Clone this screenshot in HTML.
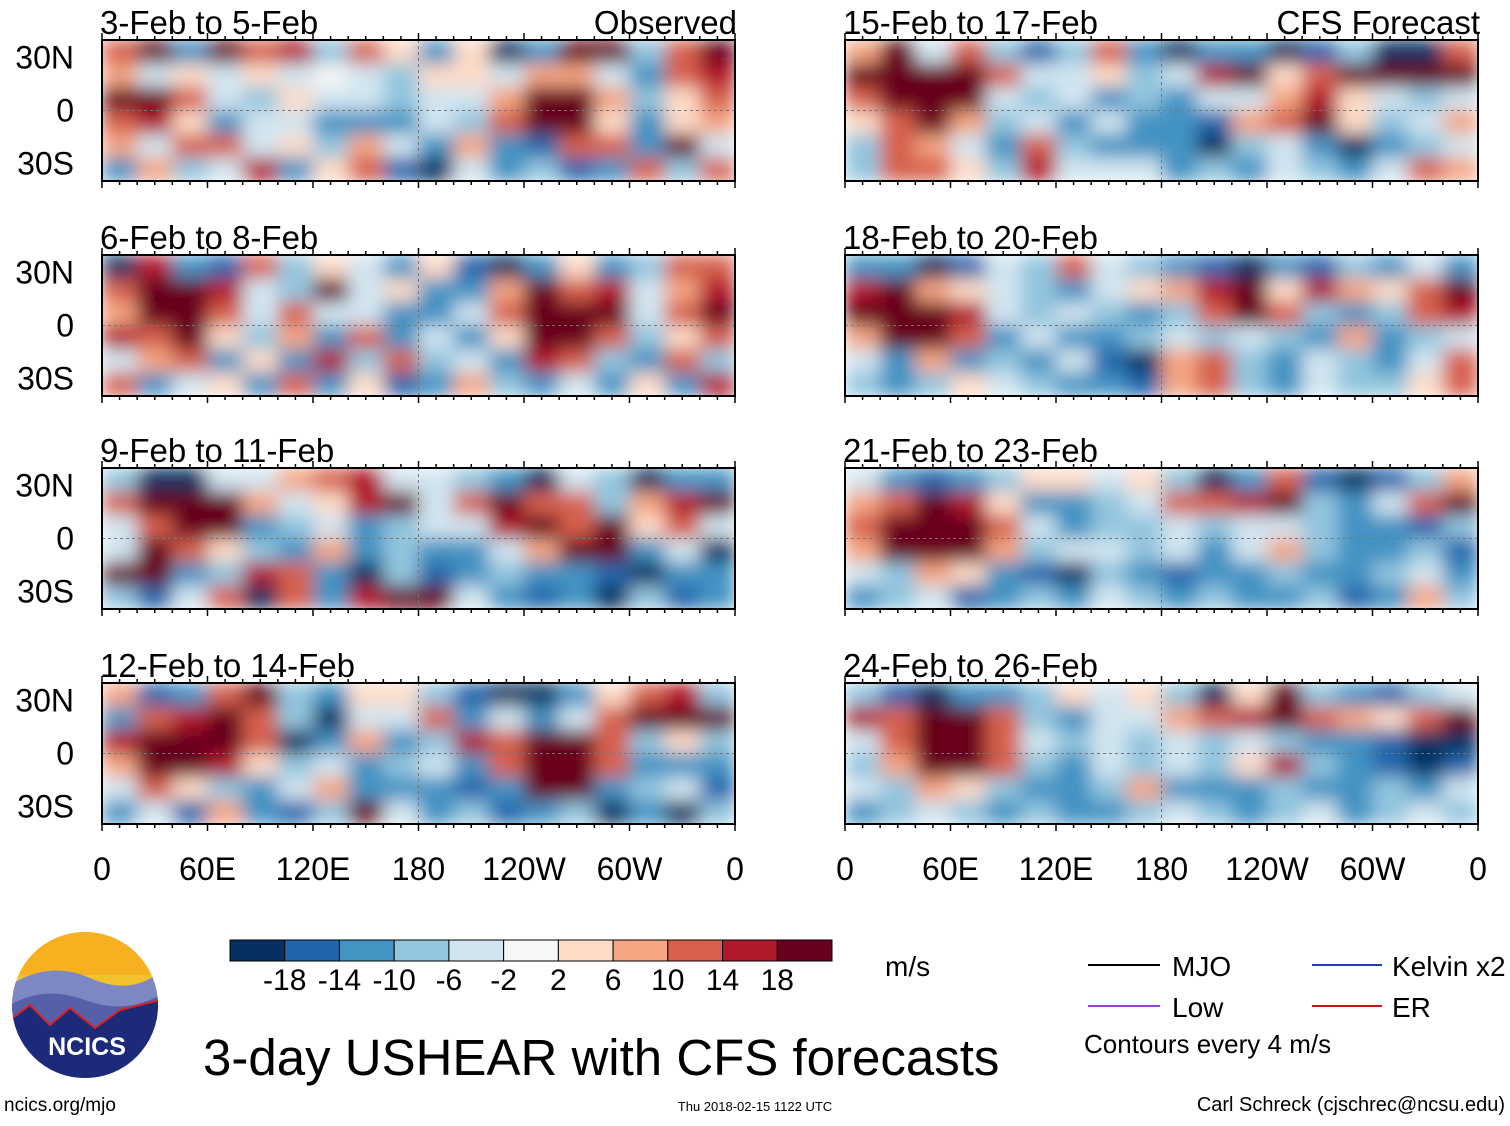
<!DOCTYPE html>
<html><head><meta charset="utf-8"><style>
body{margin:0;background:#fff;width:1510px;height:1121px;overflow:hidden;font-family:"Liberation Sans",sans-serif}
svg text{font-family:"Liberation Sans",sans-serif}
</style></head><body>
<svg id="chart" width="1510" height="1121">
<defs>
<filter id="bl" x="0" y="0" width="1" height="1"><feGaussianBlur stdDeviation="9" edgeMode="duplicate"/></filter>
</defs>
<g id="panels"></g>
<g id="bottom"></g>
</svg>
<script>
const panelTitles=["3-Feb to 5-Feb","6-Feb to 8-Feb","9-Feb to 11-Feb","12-Feb to 14-Feb","15-Feb to 17-Feb","18-Feb to 20-Feb","21-Feb to 23-Feb","24-Feb to 26-Feb"];
const lonTicks=["0","60E","120E","180","120W","60W","0"];
const latTicks=["30N","0","30S"];
const cbLabels=["-18","-14","-10","-6","-2","2","6","10","14","18"];
const p1=[[10,14,-10,15,8,12,-6,8,2,-10,4,-14,-10,15,18,-6,10,18],[6,-2,4,-4,2,-4,0,-2,-6,2,4,-4,6,6,-2,-10,8,12],[14,18,10,-2,-6,2,-2,-4,-6,-4,-2,6,18,18,6,-6,4,10],[8,12,4,-8,-4,-2,-8,-10,-8,-4,-6,8,18,16,4,-8,2,6],[6,-4,10,8,-2,4,-6,6,-4,-10,6,-8,-12,10,8,-10,14,-4],[-8,6,-6,-4,12,-8,2,10,-12,-14,-4,-10,-6,-12,-8,10,-6,8]];
const p2=[[-14,12,-8,-12,10,-6,4,-2,-10,4,-12,-14,-8,4,-10,-6,8,10],[8,16,18,12,-4,-6,14,-2,2,-8,-10,6,14,10,12,-4,6,12],[6,18,18,10,-2,8,-4,-2,-8,-10,-4,10,18,18,14,-4,8,14],[12,10,14,2,-6,6,-10,8,-10,-4,-8,4,14,18,10,-6,4,10],[-4,6,8,-10,4,-8,12,-6,8,-6,-4,-8,12,10,-6,-8,10,-6],[8,-10,-4,4,-10,10,-8,4,-12,-10,6,-6,-8,-4,-8,4,-10,12]];
const p3=[[-6,-16,-18,-4,-2,6,10,12,-4,-2,-6,-10,-14,-4,-6,-14,-8,-10],[10,14,18,18,6,-4,2,12,14,-4,8,18,10,8,-6,6,12,18],[-2,10,18,16,-8,-6,-4,-8,-6,-4,-4,12,14,10,18,4,10,-4],[-2,14,10,4,-6,-10,6,-10,-6,-10,-8,-2,6,18,16,-8,-4,-14],[18,14,-10,-6,12,8,-10,-14,-6,-12,-10,-6,-10,-8,-12,-14,-10,-10],[-6,-12,-4,8,-14,10,-8,12,14,18,-4,-10,-12,-8,-14,-6,-12,-10]];
const p4=[[6,-12,-10,8,14,-6,-10,4,2,-6,-12,-14,-16,-10,4,8,12,-6],[-8,10,12,14,8,-6,-14,-4,-4,10,-10,-4,-10,-2,10,18,18,16],[12,16,18,16,10,-14,-8,6,-8,-6,12,8,18,18,10,-6,4,-6],[6,14,18,12,4,-6,-2,-10,-6,-4,-10,8,18,18,8,-8,-10,-8],[-4,8,4,-6,-10,-4,6,-8,-10,-8,-12,-8,14,16,-10,-6,-4,-12],[-8,-4,-12,6,-10,-12,-6,14,-4,-8,-6,-12,-10,-6,-14,-10,-14,-6]];
const p5=[[6,14,-4,10,-6,-12,-6,8,-10,-14,-8,-10,-14,-12,-6,-14,-18,8],[14,16,18,14,8,-4,-4,2,-6,-4,12,14,4,8,18,18,14,16],[10,18,18,14,-2,-6,-4,-10,-6,-8,-4,-2,6,12,4,-4,-6,-2],[4,10,14,6,-6,-2,-8,-4,-8,-10,-12,6,10,16,4,-6,-4,6],[-6,10,6,-4,-10,8,-6,-10,-8,-10,-14,-6,-4,-10,-14,-10,-6,-4],[-6,10,8,4,-6,12,-4,-2,-4,-10,-6,-10,-4,-6,-10,-4,8,6]];
const p6=[[-8,-10,-14,-12,-4,-6,10,-4,-6,-10,-12,-14,-8,-12,-6,-10,-4,-8],[12,16,6,4,-4,-6,-8,-4,2,6,12,14,4,12,6,2,10,14],[14,18,18,12,-4,-6,-4,-6,-8,-6,8,16,10,-6,-8,-6,8,12],[6,14,16,8,-8,-4,-10,-8,-6,-4,-6,-4,-6,-10,6,-8,-6,-4],[-4,-10,6,-8,-6,-10,-4,-12,-14,6,10,-6,-10,-4,-6,-8,-4,8],[-6,-8,-6,4,-4,-6,-8,-10,-12,6,8,-6,-8,-4,-6,-6,4,10]];
const p7=[[-4,-8,-12,-10,-6,4,2,-4,2,-6,-16,-8,10,-12,-14,-12,-6,6],[6,10,14,12,4,-8,-10,-6,-2,8,10,12,14,-6,-8,-4,10,16],[10,16,18,16,10,-4,-8,-6,-6,-4,-6,-4,-4,-6,-10,-8,-12,-6],[6,14,18,14,6,-6,-4,-2,-6,-4,-8,-2,6,-6,-8,-10,-6,-12],[-4,-6,6,4,-10,-12,-14,-6,-10,-12,-8,-10,-6,-8,-10,-6,-4,-8],[-10,-6,-4,-12,-8,-6,-10,-4,-6,-8,-6,-10,-8,-6,-12,-8,6,-6]];
const p8=[[-6,-12,-14,-10,-8,-6,4,-2,4,-6,-16,2,14,-6,-10,-12,-6,-4],[12,10,16,14,8,-6,-10,-4,-2,6,10,12,16,8,6,4,10,14],[-4,10,18,16,10,-2,-6,-4,-6,-4,-6,-4,-6,-8,-10,-12,-16,-14],[-6,6,14,16,8,-6,-8,-4,-6,-2,-6,4,12,-6,-10,-12,-16,-12],[-4,-6,6,4,-6,-10,-8,-6,6,-8,-10,-8,-6,-10,-8,-6,-8,-4],[-8,-6,-4,-6,-8,-6,-10,-8,-6,-4,-6,-8,-6,-4,-8,-6,-4,-6]];
const panelData=[p1,p2,p3,p4,p5,p6,p7,p8];
const colors=["#053061","#2166ac","#4393c3","#92c5de","#d1e5f0","#f7f7f7","#fddbc7","#f4a582","#d6604d","#b2182b","#67001f"];
const bounds=[-18,-14,-10,-6,-2,2,6,10,14,18];
const contrast=1.35;
function colorOf(v){v=v*contrast;let i=0;while(i<bounds.length&&v>=bounds[i])i++;return colors[i];}
const NS="http://www.w3.org/2000/svg";
function el(t,a,p){const e=document.createElementNS(NS,t);for(const k in a)e.setAttribute(k,a[k]);p.appendChild(e);return e;}
const PW=633,PH=141;
const lefts=[102,845],tops=[40,255,468,683];
const xLon=(x0,lon)=>x0+lon/360*PW;
const yLat=(y0,lat)=>y0+(40-lat)/80*PH;
const G=document.getElementById('panels');
panelData.forEach((data,pi)=>{
  const x0=lefts[Math.floor(pi/4)],y0=tops[pi%4];
  const g=el('g',{},G);
  
  
  const hm=el('g',{filter:'url(#bl)'},g);
  
  
  const nr=data.length,nc=data[0].length;
  data.forEach((row,r)=>row.forEach((v,c)=>{
    const lon0=c*360/nc,lat0=40-r*80/nr;
    const cell=el('rect',{x:xLon(x0,lon0),y:yLat(y0,lat0),width:PW/nc+0.6,height:PH/nr+0.6,fill:colorOf(v)},hm);
    
    
  }));
  el('line',{x1:x0,x2:x0+PW,y1:yLat(y0,0),y2:yLat(y0,0),stroke:'#777','stroke-dasharray':'3,3','stroke-width':1},g);
  el('line',{x1:xLon(x0,180),x2:xLon(x0,180),y1:y0,y2:y0+PH,stroke:'#777','stroke-dasharray':'3,3','stroke-width':1},g);
  el('rect',{x:x0,y:y0,width:PW,height:PH,fill:'none',stroke:'#000','stroke-width':2},g);
  for(let k=0;k<=36;k++){const x=xLon(x0,k*10),len=k%6==0?7:4;
    el('line',{x1:x,x2:x,y1:y0,y2:y0-len,stroke:'#000','stroke-width':1.5},g);
    el('line',{x1:x,x2:x,y1:y0+PH,y2:y0+PH+len,stroke:'#000','stroke-width':1.5},g);}
  const t=el('text',{x:x0-2,y:y0-6,'font-size':33},g);t.textContent=panelTitles[pi];
  
  if(pi==0){const s=el('text',{x:x0+PW+2,y:y0-6,'font-size':33,'text-anchor':'end'},g);s.textContent='Observed';
    }
  if(pi==4){const s=el('text',{x:x0+PW+2,y:y0-6,'font-size':33,'text-anchor':'end'},g);s.textContent='CFS Forecast';
    }
  if(pi<4){[30,0,-30].forEach((lat,i)=>{const l=el('text',{x:74,y:yLat(y0,lat)+11,'font-size':32,'text-anchor':'end'},g);l.textContent=latTicks[i];
    });}
  if(pi%4==3){lonTicks.forEach((s,i)=>{const l=el('text',{x:xLon(x0,i*60),y:880,'font-size':32,'text-anchor':'middle'},g);l.textContent=s;
    });}
});
const B=document.getElementById('bottom');
const cbx=230,cbw=602/11;
colors.forEach((c,i)=>{const r=el('rect',{x:cbx+i*cbw,y:940,width:cbw,height:21,fill:c,stroke:'#000','stroke-width':1},B);
  });
cbLabels.forEach((s,i)=>{const t=el('text',{x:cbx+(i+1)*cbw,y:990,'font-size':30,'text-anchor':'middle'},B);t.textContent=s;
  });
</script>
<svg style="position:absolute;left:0;top:0" width="1510" height="1121">
<g>
<clipPath id="lc"><circle cx="85" cy="1005" r="73"/></clipPath>
<g clip-path="url(#lc)">
<rect x="10" y="930" width="150" height="150" fill="#f2c12e"/>
<rect x="10" y="930" width="150" height="45" fill="#f6b020"/>
<path d="M10 985 Q50 960 90 978 T160 972 V1080 H10Z" fill="#7d87c4"/>
<path d="M10 1005 Q45 985 85 1000 T160 995 V1080 H10Z" fill="#5560a8"/>
<path d="M10 1020 L30 1005 L50 1025 L70 1008 L95 1028 L120 1010 L160 1000 V1080 H10Z" fill="#1d2a7a" stroke="#d22" stroke-width="2"/>
</g>
<text x="87" y="1055" font-size="25" font-weight="bold" fill="#fff" text-anchor="middle">NCICS</text>
</g>
<text x="4" y="1111" font-size="19">ncics.org/mjo</text>
<text x="203" y="1075" font-size="51">3-day USHEAR with CFS forecasts</text>
<text x="885" y="976" font-size="28">m/s</text>
<line x1="1088" x2="1160" y1="965" y2="965" stroke="#000" stroke-width="2"/>
<text x="1172" y="976" font-size="28">MJO</text>
<line x1="1312" x2="1382" y1="965" y2="965" stroke="#1a3ccc" stroke-width="2"/>
<text x="1392" y="976" font-size="28">Kelvin x2</text>
<line x1="1088" x2="1160" y1="1006" y2="1006" stroke="#9a3fd8" stroke-width="2"/>
<text x="1172" y="1017" font-size="28">Low</text>
<line x1="1312" x2="1382" y1="1006" y2="1006" stroke="#d01010" stroke-width="2"/>
<text x="1392" y="1017" font-size="28">ER</text>
<text x="1084" y="1053" font-size="26">Contours every 4 m/s</text>
<text x="755" y="1111" font-size="13" text-anchor="middle">Thu 2018-02-15 1122 UTC</text>
<text x="1505" y="1111" font-size="20" text-anchor="end">Carl Schreck (cjschrec@ncsu.edu)</text>
</svg>
</body></html>
